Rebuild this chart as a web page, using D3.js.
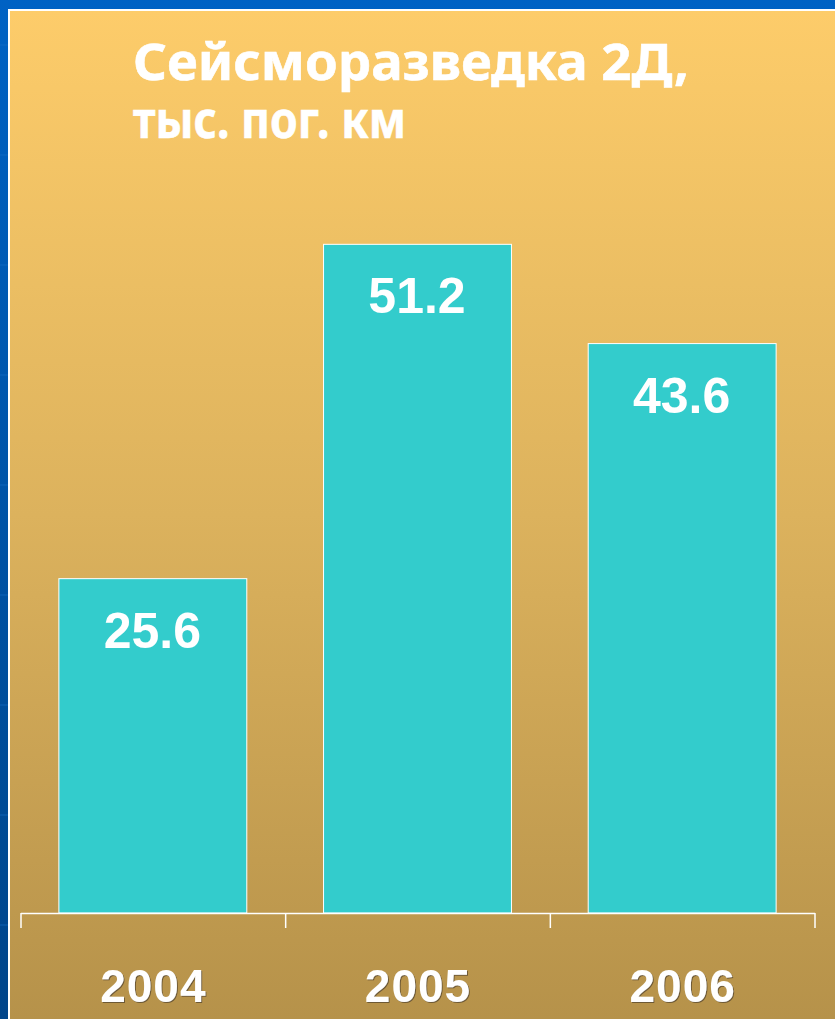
<!DOCTYPE html>
<html>
<head>
<meta charset="utf-8">
<script src="https://cdn.jsdelivr.net/npm/d3@7"></script>
<style>
  html, body { margin: 0; padding: 0; background: #0058b0; }
  #chart { width: 835px; height: 1019px; }
</style>
</head>
<body>
<div id="chart"></div>
<script>
var years = ["2004", "2005", "2006"];
var values = [25.6, 51.2, 43.6];
var titleLines = ["Сейсморазведка 2Д,", "тыс. пог. км"];

var width = 835, height = 1019;

var svg = d3.select("#chart").append("svg")
    .attr("width", width)
    .attr("height", height);

var defs = svg.append("defs");

// blue backdrop
var blue = defs.append("linearGradient").attr("id", "blue")
    .attr("x1", 0).attr("y1", 0).attr("x2", 0).attr("y2", 1);
blue.append("stop").attr("offset", "0%").attr("stop-color", "#0062c4");
blue.append("stop").attr("offset", "100%").attr("stop-color", "#00458a");

// panel gradient
var panel = defs.append("linearGradient").attr("id", "panel")
    .attr("x1", 0).attr("y1", 0).attr("x2", 0).attr("y2", 1);
panel.append("stop").attr("offset", "0%").attr("stop-color", "#fdcc6a");
panel.append("stop").attr("offset", "50%").attr("stop-color", "#dcb25d");
panel.append("stop").attr("offset", "100%").attr("stop-color", "#b6924a");

var shadow = defs.append("filter").attr("id", "shadow")
    .attr("x", "-10%").attr("y", "-10%").attr("width", "130%").attr("height", "130%");
shadow.append("feDropShadow").attr("dx", 1).attr("dy", 1)
    .attr("stdDeviation", 0.6).attr("flood-color", "#5a4a30").attr("flood-opacity", 0.8);

svg.append("rect").attr("width", width).attr("height", height).attr("fill", "url(#blue)");

// faint lines in the blue area
svg.append("g").selectAll("line").data([45, 155, 265, 375, 485, 595, 705, 815, 925]).enter()
    .append("line")
    .attr("x1", 0).attr("x2", 9)
    .attr("y1", function(d){ return d; })
    .attr("y2", function(d){ return d; })
    .style("stroke", "#1a70c8")
    .style("stroke-width", 1)
    .style("opacity", 0.6);

svg.append("rect").attr("x", 8).attr("y", 9)
    .attr("width", width - 8).attr("height", height - 9)
    .attr("fill", "#ffffff");
svg.append("rect").attr("x", 10).attr("y", 11)
    .attr("width", width - 10).attr("height", height - 11)
    .attr("fill", "url(#panel)");

// title (one text, two lines)
var title = svg.append("text")
    .style("font-family", "'Noto Sans', 'DejaVu Sans', sans-serif")
    .style("font-weight", "bold")
    .style("font-size", "51px")
    .style("fill", "#ffffff")
    .style("stroke", "#ffffff")
    .style("stroke-width", 0.6);
title.selectAll("tspan").data(titleLines).enter()
    .append("tspan")
    .attr("x", 133)
    .attr("y", function(d, i){ return 80 + i * 58; })
    .attr("textLength", function(d, i){ return i == 0 ? 556 : 273; })
    .attr("lengthAdjust", "spacingAndGlyphs")
    .text(function(d){ return d; });

// scales
var marginLeft = 21, marginRight = 20, baseY = 913, topY = 129.4;

var xScale = d3.scaleBand()
    .domain(years)
    .range([marginLeft, width - marginRight])
    .paddingInner(0.29)
    .paddingOuter(0.145);

var yScale = d3.scaleLinear()
    .domain([0, 60])
    .range([baseY, topY]);

// bars
svg.append("g").selectAll("rect").data(values).enter()
    .append("rect")
    .attr("x", function(d, i){ return xScale(years[i]) - 0.5; })
    .attr("y", function(d){ return yScale(d); })
    .attr("width", xScale.bandwidth())
    .attr("height", function(d){ return baseY - yScale(d); })
    .style("fill", "#33cccc")
    .style("stroke", "#ffffff")
    .style("stroke-width", 1);

// value labels
svg.append("g").selectAll("text").data(values).enter()
    .append("text")
    .attr("x", function(d, i){ return xScale(years[i]) + xScale.bandwidth() / 2 - 1; })
    .attr("y", function(d){ return yScale(d) + 69; })
    .text(function(d){ return d.toFixed(1); })
    .style("font-family", "'Liberation Sans', Arial, sans-serif")
    .style("font-weight", "bold")
    .style("font-size", "50px")
    .style("fill", "#ffffff")
    .style("text-anchor", "middle");

// x axis
var xAxis = d3.axisBottom(xScale).tickSize(0).tickFormat("");
var axisG = svg.append("g")
    .attr("transform", "translate(0," + baseY + ")")
    .call(xAxis);
axisG.select(".domain").remove();

var step = xScale.step();
var bounds = d3.range(years.length + 1).map(function(i){ return marginLeft + i * step; });
axisG.append("line")
    .attr("x1", marginLeft).attr("x2", width - marginRight)
    .attr("y1", 0.5).attr("y2", 0.5)
    .style("stroke", "#ffffff").style("stroke-width", 1.5);
axisG.selectAll(".sep").data(bounds).enter()
    .append("line")
    .attr("class", "sep")
    .attr("x1", function(d){ return d; })
    .attr("x2", function(d){ return d; })
    .attr("y1", 0).attr("y2", 15)
    .style("stroke", "#ffffff").style("stroke-width", 1.5);

axisG.selectAll(".year").data(years).enter()
    .append("text")
    .attr("class", "year")
    .attr("x", function(d){ return xScale(d) + xScale.bandwidth() / 2; })
    .attr("y", 1002 - baseY)
    .text(function(d){ return d; })
    .attr("filter", "url(#shadow)")
    .style("font-family", "'Liberation Sans', Arial, sans-serif")
    .style("font-weight", "bold")
    .style("font-size", "46px")
    .style("letter-spacing", "1px")
    .style("fill", "#ffffff")
    .style("text-anchor", "middle");
</script>
</body>
</html>
